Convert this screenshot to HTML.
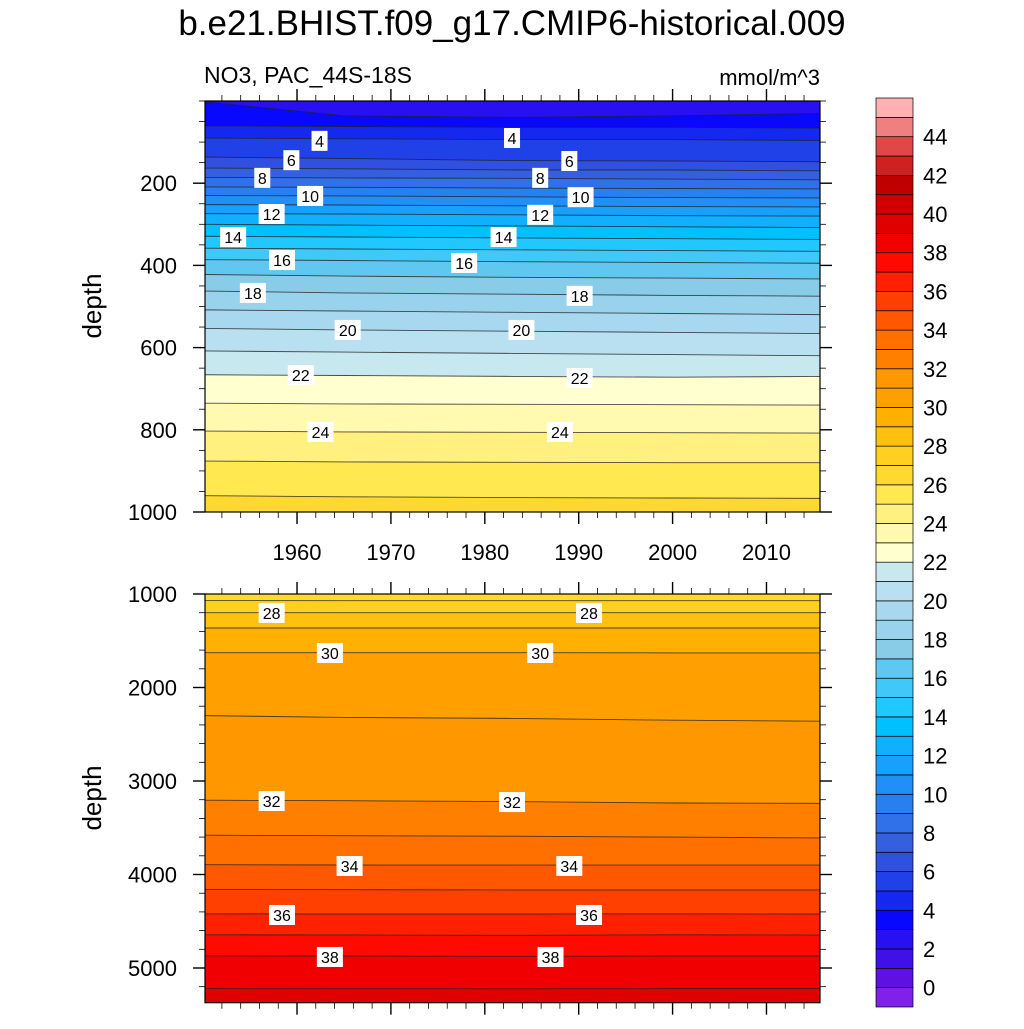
<!DOCTYPE html>
<html><head><meta charset="utf-8"><style>
html,body{margin:0;padding:0;background:#fff;}
svg text{font-family:"Liberation Sans",sans-serif;fill:#000;}
</style></head><body>
<svg id="chart" width="1024" height="1024" viewBox="0 0 1024 1024" xmlns="http://www.w3.org/2000/svg">
<defs>
<clipPath id="clipTop"><rect x="205" y="101" width="615" height="411"/></clipPath>
<clipPath id="clipBot"><rect x="205" y="594" width="615" height="408"/></clipPath>
</defs>
<text x="512" y="35" font-size="35" text-anchor="middle">b.e21.BHIST.f09_g17.CMIP6-historical.009</text>
<text x="204" y="83" font-size="23">NO3, PAC_44S-18S</text>
<text x="820" y="85" font-size="22" text-anchor="end">mmol/m^3</text>
<g id="topPanel"></g>
<g id="botPanel"></g>
<g id="colorbar"></g>
<text transform="translate(101,306) rotate(-90)" font-size="26" text-anchor="middle">depth</text>
<text transform="translate(101,798) rotate(-90)" font-size="26" text-anchor="middle">depth</text>
</svg>
<script>
// ---- data ----
const years = [1950, 1965, 1983, 2000, 2015];
const topLevelValues = [3,4,5,6,7,8,9,10,11,12,13,14,15,16,17,18,19,20,21,22,23,24,25,26];
const topLevelDepths = [
[0,36,40,36,30],[60,62,64,64,66],[90,92,94,94,96],[136,140,145,146,148],[163,165,168,168,170],
[186,187,188,190,192],[209,210,212,213,214],[230,231,233,235,236],[252,253,255,257,258],
[274,275,277,279,280],[300,302,304,306,308],[329,331,333,335,337],[358,360,362,364,366],
[386,388,391,393,395],[422,426,429,431,433],[462,467,470,473,475],[508,511,514,517,520],
[553,557,560,563,566],[608,611,614,617,620],[666,668,670,672,670],[735,737,738,739,740],
[803,805,806,807,808],[876,878,879,880,880],[960,963,965,966,967]];
const botLevelValues = [27,28,29,30,31,32,33,34,35,36,37,38,39];
const botLevelDepths = [
[1070,1072,1072,1072,1072],[1200,1200,1200,1200,1200],[1364,1364,1364,1364,1364],
[1628,1628,1628,1630,1630],[2300,2320,2330,2350,2360],[3205,3211,3220,3235,3240],
[3580,3585,3590,3600,3610],[3895,3898,3900,3900,3900],[4160,4163,4165,4165,4165],
[4420,4422,4422,4420,4422],[4645,4647,4650,4645,4648],[4870,4872,4875,4872,4872],
[5220,5221,5222,5220,5220]];
const topLabelText = ["4","4","6","6","8","8","10","10","12","12","14","14","16","16","18","18","20","20","22","22","24","24"];
const topLabelYear = [1962.4,1982.9,1959.4,1989.0,1956.3,1985.9,1961.4,1990.2,1957.3,1985.9,1953.2,1982.0,1958.4,1977.8,1955.3,1990.1,1965.4,1983.9,1960.4,1990.1,1962.5,1988.0];
const topLabelDepth = [97,90,144,146,187,187,231,234,275,277,331,331,387,394,467,474,557,557,667,674,805,805];
const botLabelText = ["28","28","30","30","32","32","34","34","36","36","38","38"];
const botLabelYear = [1957.3,1991.1,1963.5,1985.9,1957.3,1982.9,1965.6,1989.0,1958.4,1991.1,1963.5,1987.0];
const botLabelDepth = [1203,1203,1631,1631,3214,3225,3909,3909,4433,4433,4882,4882];
const xTickYears = [1960,1970,1980,1990,2000,2010];
const topYTicks = [200,400,600,800,1000];
const botYTicks = [1000,2000,3000,4000,5000];
const cbLabels = [0,2,4,6,8,10,12,14,16,18,20,22,24,26,28,30,32,34,36,38,40,42,44];
const bandColors = ["#8020e8","#6010e0","#4010e8","#2810f0","#0808ff","#1428f0","#2040e8","#3050e0","#3460e0",
"#3070e8","#2880f0","#2090f8","#18a0ff","#10b0ff","#00c0ff","#20c8ff","#40c8f8","#60c8f0","#88cce8","#98d2ec",
"#a8d8f0","#b8e0f0","#c8e8f0","#ffffd0","#fffab0","#fff080","#ffe850","#ffd830","#ffd020","#ffc010","#ffb000",
"#ffa000","#ff9800","#ff8000","#ff7000","#ff5800","#ff4000","#ff2000","#ff0a00","#f00000","#e00000","#d00000",
"#c00000","#d02020","#e04848","#f08080","#ffb0b0"];

const NS="http://www.w3.org/2000/svg";
function mk(tag, attrs, parent){const e=document.createElementNS(NS,tag);for(const k in attrs)e.setAttribute(k,attrs[k]);parent.appendChild(e);return e;}
const X0=205,X1=820,Y0=1950.2,Y1=2015.7;
function xs(yr){return X0+(yr-Y0)/(Y1-Y0)*(X1-X0);}
const topY=d=>101+d*0.411;
const botY=d=>594+(d-1000)*0.0935;
function bandColor(v){return bandColors[v+1];}

function drawPanel(g, clipId, levels, depths, yfun, baseColor, labText, labYear, labDepth, yTicks, minorStep, dmin, dmax, showXLabels, panelName){
  const top=yfun(dmin), bot=yfun(dmax);
  const cg=mk('g',{'clip-path':'url(#'+clipId+')'},g);
  const bg=mk('rect',{x:X0,y:top,width:X1-X0,height:bot-top,fill:baseColor},cg);
  
  
  levels.forEach((v,i)=>{
    const pts=years.map((yr,j)=>xs(j==0?Y0-1:(j==years.length-1?Y1+1:yr)).toFixed(1)+','+yfun(depths[i][j]).toFixed(1));
    const poly=mk('polygon',{points:pts.join(' ')+' '+xs(Y1+1)+','+(bot+5)+' '+xs(Y0-1)+','+(bot+5),fill:bandColor(v)},cg);
    
    
  });
  levels.forEach((v,i)=>{
    const pts=years.map((yr,j)=>xs(j==0?Y0-1:(j==years.length-1?Y1+1:yr)).toFixed(1)+','+yfun(depths[i][j]).toFixed(1));
    const pl=mk('polyline',{points:pts.join(' '),fill:'none',stroke:'#222',"stroke-width":0.9,"stroke-opacity":0.8},cg);
    
    
  });
  labText.forEach((t,i)=>{
    const x=xs(labYear[i]), y=yfun(labDepth[i]);
    const w=t.length*10+6;
    const r=mk('rect',{x:x-w/2,y:y-10,width:w,height:20,fill:'#fff'},cg);
    
    
    const tx=mk('text',{x:x,y:y+6,'font-size':16,'text-anchor':'middle'},cg);
    tx.textContent=t;
    
    
  });
  const fr=mk('rect',{x:X0,y:top,width:X1-X0,height:bot-top,fill:'none',stroke:'#000','stroke-width':1.2},g);
  
  
  for(let yr=1952; yr<=2014; yr+=2){
    const maj=yr%10==0, L=maj?12:6, x=xs(yr);
    mk('line',{x1:x,x2:x,y1:top,y2:top-L,stroke:'#000','stroke-width':maj?1.4:0.8},g);
    mk('line',{x1:x,x2:x,y1:bot,y2:bot+L,stroke:'#000','stroke-width':maj?1.4:0.8},g);
  }
  if(showXLabels){
    xTickYears.forEach(yr=>{
      const t=mk('text',{x:xs(yr),y:560,'font-size':22,'text-anchor':'middle'},g);
      t.textContent=yr;
      
      
    });
  }
  for(let d=Math.ceil(dmin/minorStep)*minorStep; d<=dmax; d+=minorStep){
    const maj=yTicks.includes(d), L=maj?12:6, y=yfun(d);
    mk('line',{x1:X0,x2:X0-L,y1:y,y2:y,stroke:'#000','stroke-width':maj?1.4:0.8},g);
    mk('line',{x1:X1,x2:X1+L,y1:y,y2:y,stroke:'#000','stroke-width':maj?1.4:0.8},g);
  }
  yTicks.forEach(d=>{
    const t=mk('text',{x:177,y:yfun(d)+8,'font-size':22,'text-anchor':'end'},g);
    t.textContent=d;
    
    
  });
}
drawPanel(document.getElementById('topPanel'),'clipTop',topLevelValues,topLevelDepths,topY,bandColor(2),topLabelText,topLabelYear,topLabelDepth,topYTicks,50,0,1000,true,'upper-panel');
drawPanel(document.getElementById('botPanel'),'clipBot',botLevelValues,botLevelDepths,botY,bandColor(26),botLabelText,botLabelYear,botLabelDepth,botYTicks,200,1000,5371,false,'lower-panel');

const cb=document.getElementById('colorbar');
const cbTop=98, cbBot=1007, nb=bandColors.length, bh=(cbBot-cbTop)/nb;
bandColors.forEach((c,i)=>{
  const r=mk('rect',{x:876,y:cbBot-(i+1)*bh,width:37,height:bh,fill:c,stroke:'#000','stroke-width':0.7},cb);
  
  
});
cbLabels.forEach(v=>{
  const y=cbBot-(v+1)*bh;
  const t=mk('text',{x:923,y:y+8,'font-size':22},cb);
  t.textContent=v;
  
  
});
</script>
</body></html>
